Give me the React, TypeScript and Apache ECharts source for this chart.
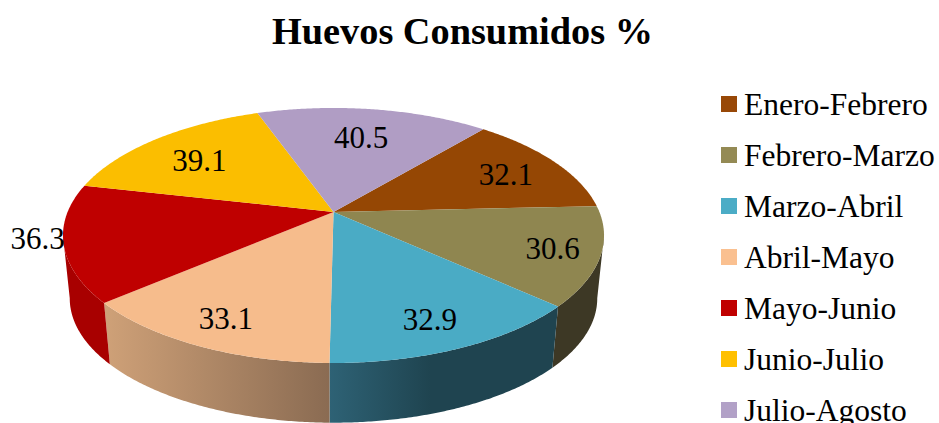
import React, { useEffect, useRef } from "react";
import * as echarts from "echarts";

const categories = ["Enero-Febrero", "Febrero-Marzo", "Marzo-Abril", "Abril-Mayo", "Mayo-Junio", "Junio-Julio", "Julio-Agosto"];
const consumed = [32.1, 30.6, 32.9, 33.1, 36.3, 39.1, 40.5];
const labels = ["32.1", "30.6", "32.9", "33.1", "36.3", "39.1", "40.5"];
const topColors = ["#954704", "#8F8650", "#4AABC5", "#F6BC8C", "#BF0000", "#FBBE00", "#B09DC4"];
const legendColors = ["#984807", "#948A54", "#4BACC6", "#FAC090", "#C00000", "#FFC000", "#B2A1C7"];

const FONT = '"Liberation Serif", "Times New Roman", serif';
const START_DEG = 40;
const CX = 333.5, CY = 212, A = 265.9, B = 123.2, K = 0.184;
const DEPTH = 63.5, SHRINK = 0.975;
const FRONT_FROM = 100.6, FRONT_TO = 259.4;

const labelRadius = [0.76, 0.83, 0.815, 0.825, 1.09, 0.71, 0.69];
const labelTurn = [1, 0, 1, 0, 3, -2, -0.4];
const wallShade = [
  { from: "#3D3825", to: "#3D3825", x0: 0, x1: 939 },
  { from: "#3D3825", to: "#3D3825", x0: 0, x1: 939 },
  { from: "#2E6275", to: "#1F4450", x0: 330, x1: 430 },
  { from: "#CFA178", to: "#8A6B52", x0: 104, x1: 330 },
  { from: "#A80000", to: "#A80000", x0: 0, x1: 939 },
  { from: "#A80000", to: "#A80000", x0: 0, x1: 939 },
  { from: "#A80000", to: "#A80000", x0: 0, x1: 939 },
];

const total = consumed.reduce((s, v) => s + v, 0);

function project(deg: number, r = 1): [number, number] {
  const t = (deg * Math.PI) / 180;
  const u = Math.sin(t) * r;
  const v = -Math.cos(t) * r;
  const w = 1 - K * v;
  return [CX + (A * u) / w, CY + (B * v) / w];
}
function lower(p: [number, number]): [number, number] {
  return [CX + (p[0] - CX) * SHRINK, CY + DEPTH + (p[1] - CY) * SHRINK];
}
function arc(a: number, b: number): [number, number][] {
  const pts: [number, number][] = [];
  const n = Math.max(2, Math.ceil(Math.abs(b - a) * 2));
  for (let i = 0; i <= n; i++) pts.push(project(a + ((b - a) * i) / n));
  return pts;
}

function makeSeries(index: number) {
  const before = consumed.slice(0, index).reduce((s, v) => s + v, 0);
  return {
    type: "custom",
    name: categories[index],
    coordinateSystem: "none",
    silent: true,
    itemStyle: { color: legendColors[index] },
    data: [[consumed[index]]],
    renderItem: (_params: any, api: any) => {
      const value = api.value(0) as number;
      const a0 = START_DEG + (before / total) * 360;
      const a1 = a0 + (value / total) * 360;
      const children: any[] = [];
      const w0 = Math.max(a0, FRONT_FROM);
      const w1 = Math.min(a1, FRONT_TO);
      if (w1 > w0) {
        const top = arc(w0, w1);
        const bottom = top.map(lower).reverse();
        const s = wallShade[index];
        children.push({
          type: "polygon",
          z2: 1,
          shape: { points: [...top, ...bottom] },
          style: {
            fill: new echarts.graphic.LinearGradient(s.x0, 0, s.x1, 0, [
              { offset: 0, color: s.from },
              { offset: 1, color: s.to },
            ], true),
          },
        });
      }
      children.push({
        type: "polygon",
        z2: 2,
        shape: { points: [[CX, CY], ...arc(a0, a1)] },
        style: { fill: topColors[index] },
      });
      const [lx, ly] = project((a0 + a1) / 2 + labelTurn[index], labelRadius[index]);
      children.push({
        type: "text",
        z2: 3,
        x: lx,
        y: ly,
        style: {
          text: labels[index],
          fill: "#000",
          font: `31px ${FONT}`,
          align: "center",
          verticalAlign: "middle",
        },
      });
      return { type: "group", children };
    },
  };
}

export default function App() {
  const ref = useRef<HTMLDivElement>(null);
  useEffect(() => {
    document.body.style.margin = "0";
    const chart = echarts.init(ref.current!, undefined, { renderer: "svg" });
    chart.setOption({
      animation: false,
      backgroundColor: "#fff",
      title: {
        text: "Huevos Consumidos %",
        left: 272,
        top: 12,
        padding: 0,
        textStyle: { fontFamily: FONT, fontWeight: "bold", fontSize: 38.3, color: "#000" },
      },
      legend: {
        orient: "vertical",
        left: 721,
        top: 88,
        height: 600,
        padding: 0,
        icon: "rect",
        itemWidth: 16,
        itemHeight: 16,
        itemGap: 19,
        selectedMode: false,
        data: categories,
        textStyle: { fontFamily: FONT, fontSize: 31.5, color: "#000", padding: [0, 0, 0, 2] },
      },
      series: categories.map((_, i) => makeSeries(i)),
    });
    return () => chart.dispose();
  }, []);
  return <div ref={ref} style={{ width: 939, height: 423, position: "fixed", left: 0, top: 0 }} />;
}
